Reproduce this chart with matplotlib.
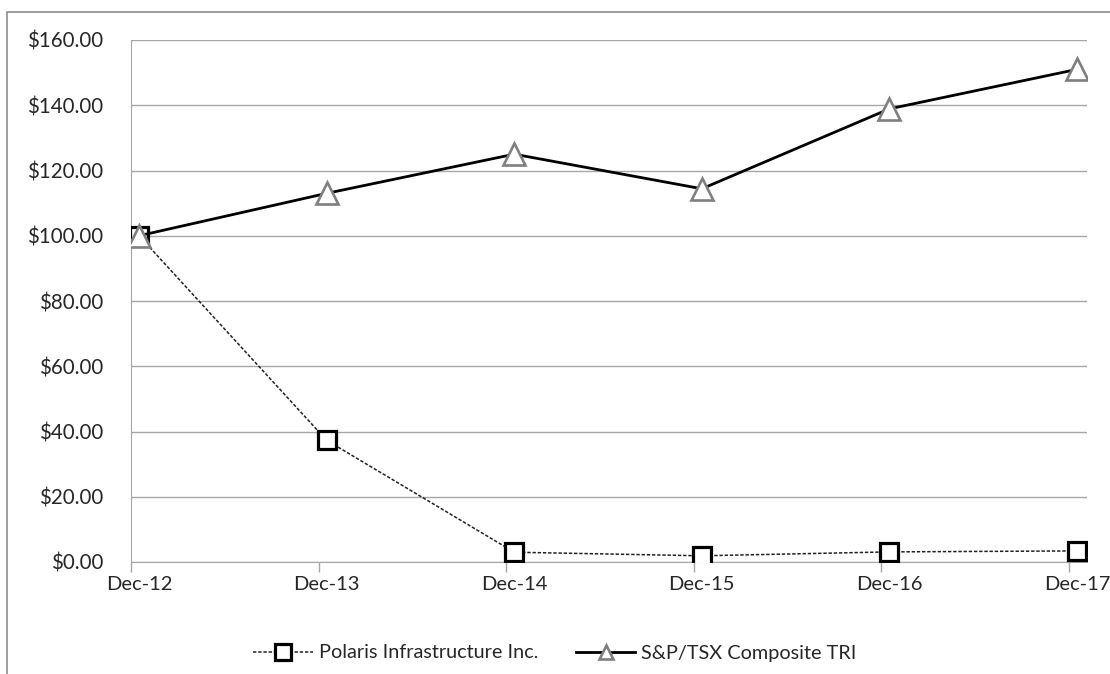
import numpy as np
import matplotlib.pyplot as plt
from matplotlib.patches import Rectangle

plt.rcParams['font.family'] = ['Lato', 'DejaVu Sans']

# data
periods = ["Dec-12", "Dec-13", "Dec-14", "Dec-15", "Dec-16", "Dec-17"]
polaris = [100.0, 37.3, 3.0, 1.9, 3.1, 3.4]
tsx = [100.0, 113.0, 125.0, 114.4, 138.9, 151.0]
yticks = [0, 20, 40, 60, 80, 100, 120, 140, 160]

x = np.arange(len(periods))

fig = plt.figure(figsize=(11.1, 6.74), dpi=100)
ax = fig.add_axes([131 / 1110, 1 - 562 / 674, (1087 - 131) / 1110, (562 - 40) / 674])

# outer chart frame
fig.patches.append(Rectangle((7 / 1110, -0.1), 1.2, 1 - 12 / 674 + 0.1,
                             transform=fig.transFigure, fill=False,
                             edgecolor="#8c8c8c", linewidth=1.2))

ax.plot(x, polaris, color="#202020", linestyle=(0, (2.2, 1.2)), linewidth=1.1,
        marker="s", markersize=12.5, markerfacecolor="white",
        markeredgecolor="black", markeredgewidth=2.3,
        label="Polaris Infrastructure Inc.", zorder=3)
ax.plot(x, tsx, color="black", linewidth=2.0,
        marker="^", markersize=16, markerfacecolor="white",
        markeredgecolor="#7f7f7f", markeredgewidth=1.9,
        label="S&P/TSX Composite TRI", zorder=4)

ax.set_ylim(0, 160)
ax.set_xlim(-0.043, 5.053)
ax.set_yticks(yticks)
ax.set_yticklabels(["${:.2f}".format(v) for v in yticks])
ax.yaxis.grid(True, color="#a6a6a6", linewidth=1.0)
ax.set_axisbelow(True)

# tick marks sit a little left of the labels
ax.set_xticks(x - 0.043)
ax.set_xticklabels([])
ax.set_xticks(x, minor=True)
ax.set_xticklabels(periods, minor=True)
ax.tick_params(axis="x", which="major", length=7, color="#a6a6a6", width=1)
ax.tick_params(axis="x", which="minor", length=0, pad=10, labelsize=14.5, labelcolor="#262626")
ax.tick_params(axis="y", length=0, pad=20, labelsize=14.8, labelcolor="#262626")

for s in ["top", "right"]:
    ax.spines[s].set_visible(False)
ax.spines["left"].set_color("#a6a6a6")
ax.spines["bottom"].set_color("#a6a6a6")

leg = fig.legend(loc="center", bbox_to_anchor=(555 / 1110, 1 - 653 / 674), ncol=2,
                 frameon=False, fontsize=14.3, handlelength=3.0, columnspacing=1.9,
                 handletextpad=0.3)
leg.legend_handles[0].set_markersize(11.5)
leg.legend_handles[1].set_markersize(10)
for t in leg.get_texts():
    t.set_color("#262626")

fig.savefig("out.png", dpi=100, facecolor="white")
